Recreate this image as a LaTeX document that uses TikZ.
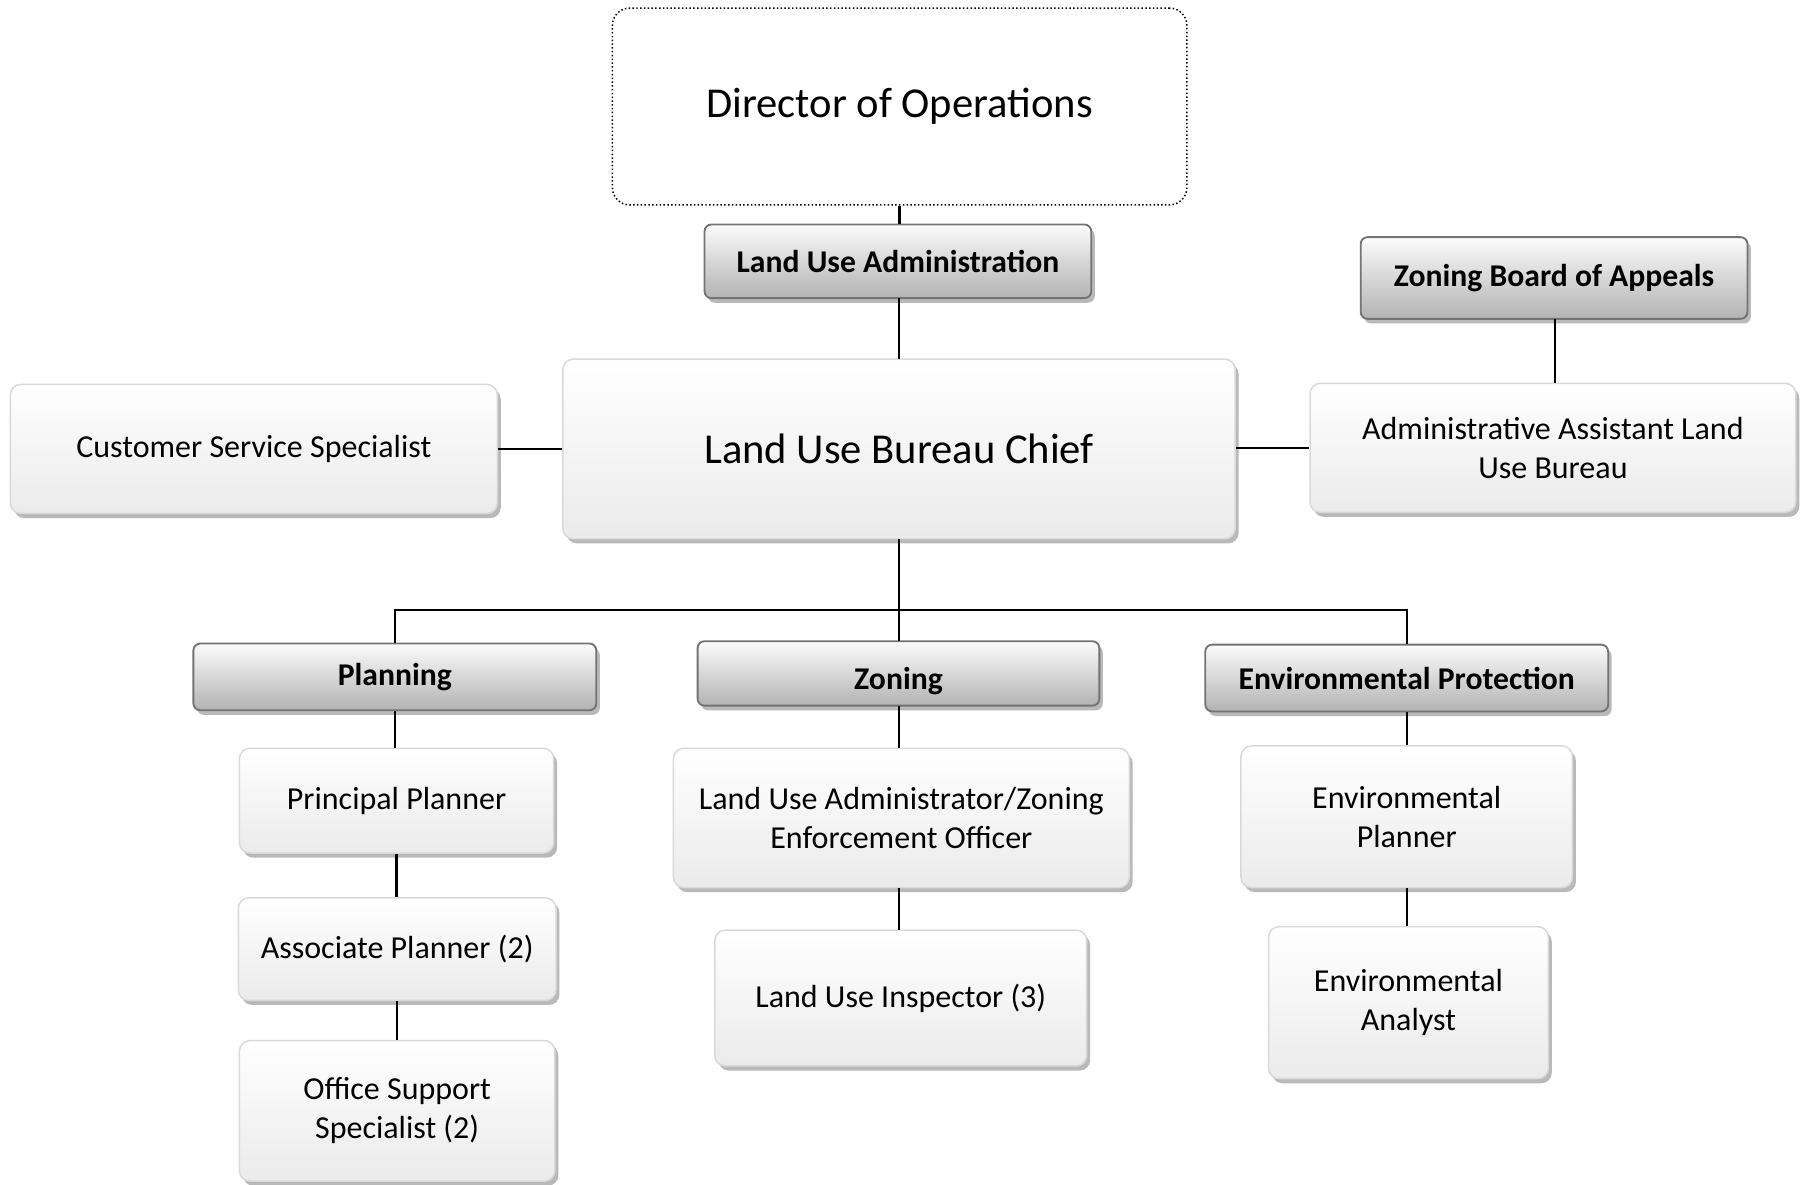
\documentclass[tikz,border=0pt]{standalone}
\usepackage{fontspec}
\setmainfont{Carlito}
\usetikzlibrary{shadows}
\begin{document}
\begin{tikzpicture}[x=1pt,y=-1pt,
  conn/.style={line width=2pt, black},
  sbox/.style={rounded corners=9pt, draw=gray!30, line width=1.3pt,
    top color=white, bottom color=gray!16,
    drop shadow={shadow xshift=3pt, shadow yshift=-4pt, fill=gray!55, opacity=1},
    align=center, inner sep=0pt, font=\fontsize{27.8}{34}\selectfont},
  hdr/.style={rounded corners=6pt, draw=gray!90!black, line width=1.6pt,
    top color=gray!3, bottom color=gray!60,
    drop shadow={shadow xshift=3pt, shadow yshift=-4pt, fill=gray!55, opacity=1},
    align=center, inner sep=0pt, font=\bfseries\fontsize{27.5}{32}\selectfont},
  dirbox/.style={rounded corners=15pt, draw=black, dotted, line width=1.3pt,
    fill=white, align=center, inner sep=0pt, font=\fontsize{37}{44}\selectfont}]
\useasboundingbox (0,0) rectangle (1568,1029);
\fill[white] (0,0) rectangle (1568,1029);

\node[dirbox, minimum width=499pt, minimum height=171pt] (dir) at (781.5,92.5) {Director of Operations};
\node[hdr, minimum width=336pt, minimum height=64pt] (lua) at (780,227) {Land Use Administration};
\node[sbox, minimum width=584pt, minimum height=156pt, font=\fontsize{37}{44}\selectfont] (chief) at (781,390) {Land Use Bureau Chief};
\node[sbox, minimum width=423pt, minimum height=112pt] (css) at (220.5,390) {Customer Service Specialist};
\node[sbox, minimum width=422pt, minimum height=112pt] (aa) at (1349,389) {Administrative Assistant Land\\Use Bureau};
\node[hdr, minimum width=336pt, minimum height=71pt] (zba) at (1350,241.5) {Zoning Board of Appeals};

\node[hdr, minimum width=350pt, minimum height=58pt] (plan) at (343,588) {Planning};
\node[hdr, minimum width=349pt, minimum height=56pt, text height=33pt, text depth=5pt] (zon) at (780.5,585) {Zoning};
\node[hdr, minimum width=350pt, minimum height=58pt] (envp) at (1222,589) {Environmental Protection};

\node[sbox, minimum width=273pt, minimum height=91pt] (pp) at (344.5,695.5) {Principal Planner};
\node[sbox, minimum width=276pt, minimum height=89pt] (ap) at (345,824.5) {Associate Planner (2)};
\node[sbox, minimum width=274pt, minimum height=122pt] (os) at (345,965) {Office Support\\Specialist (2)};

\node[sbox, minimum width=396pt, minimum height=121pt] (luaz) at (783,710.5) {Land Use Administrator/Zoning\\Enforcement Officer};
\node[sbox, minimum width=323pt, minimum height=118pt] (lui) at (782.5,867) {Land Use Inspector (3)};

\node[sbox, minimum width=288pt, minimum height=123pt] (ep) at (1222,709.5) {Environmental\\Planner};
\node[sbox, minimum width=243pt, minimum height=132pt] (ea) at (1223.5,871) {Environmental\\Analyst};

\coordinate (bar) at (781,530);

\draw[conn] (dir.south) -- (lua.north -| dir.south);
\draw[conn] (781,259) -- (781,312);
\draw[conn] (css.east) -- (chief.west |- css.east);
\draw[conn] (chief.east |- aa.west) -- (aa.west);
\draw[conn] (1351,277) -- (1351,333);
\draw[conn] (781,468) -- (781,557);
\draw[conn] (plan.north) |- (bar) -| (envp.north);
\draw[conn] (plan.south) -- (pp.north -| plan.south);
\draw[conn] (pp.south) -- (ap.north -| pp.south);
\draw[conn] (ap.south) -- (os.north -| ap.south);
\draw[conn] (781,613) -- (781,650);
\draw[conn] (781,771) -- (781,808);
\draw[conn] (envp.south) -- (ep.north -| envp.south);
\draw[conn] (ep.south) -- (ea.north -| ep.south);
\end{tikzpicture}
\end{document}
